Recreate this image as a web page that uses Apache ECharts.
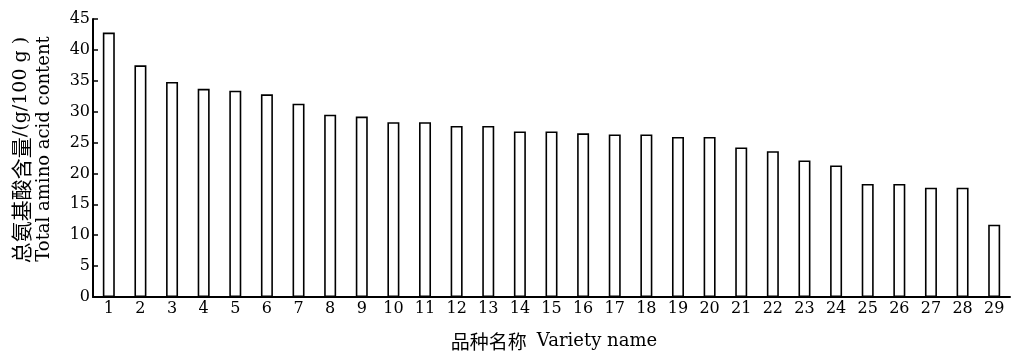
<!DOCTYPE html>
<html>
<head>
<meta charset="utf-8">
<script src="https://cdn.jsdelivr.net/npm/echarts@6/dist/echarts.min.js"></script>
<style>html,body{margin:0;padding:0;background:#fff}#c{width:1013px;height:354px}</style>
</head>
<body>
<div id="c"></div>
<script>
const categories = ['1','2','3','4','5','6','7','8','9','10','11','12','13','14','15','16','17','18','19','20','21','22','23','24','25','26','27','28','29'];
const values = [42.8,37.5,34.8,33.7,33.4,32.8,31.3,29.5,29.2,28.3,28.3,27.7,27.7,26.8,26.8,26.5,26.3,26.3,25.9,25.9,24.2,23.6,22.1,21.3,18.3,18.3,17.7,17.7,11.7];
const yTicks = [0,5,10,15,20,25,30,35,40,45];
const xTitleCn = '品种名称';
const xTitleEn = 'Variety name';
const yTitleCn = '总氨基酸含量';
const yTitleUnit = '/(g/100 g )';
const yTitleEn = 'Total amino acid content';

const serif = '"DejaVu Serif","Liberation Serif",serif';
const cjk = '"Noto Sans CJK SC","Noto Sans CJK JP",sans-serif';
const chart = echarts.init(document.getElementById('c'));
chart.setOption({
  animation: false,
  grid: {left: 93, right: 3, top: 19, bottom: 57, outerBoundsMode: 'none', containLabel: false},
  xAxis: {
    type: 'category', data: categories, boundaryGap: true,
    name: '{cn|' + xTitleCn + '}{sp| }{en|' + xTitleEn + '}', nameLocation: 'middle', nameGap: 35,
    nameTextStyle: {color: '#000', padding: [0,0,0,5], rich: {
      cn: {fontFamily: cjk, fontSize: 19, color: '#000'},
      sp: {fontFamily: serif, fontSize: 18, color: '#000', width: 10},
      en: {fontFamily: serif, fontSize: 18, color: '#000'}
    }},
    axisLine: {lineStyle: {color: '#000', width: 2}},
    axisTick: {inside: true, length: 5, lineStyle: {color: '#000', width: 1.5}},
    axisLabel: {fontFamily: serif, fontSize: 16, color: '#000', margin: 4, interval: 0}
  },
  yAxis: {
    type: 'value', min: yTicks[0], max: yTicks[yTicks.length-1], interval: 5,
    axisLine: {show: true, lineStyle: {color: '#000', width: 2}},
    axisTick: {show: true, inside: true, length: 5, lineStyle: {color: '#000', width: 1.5}},
    splitLine: {show: false},
    axisLabel: {fontFamily: serif, fontSize: 16, color: '#000', margin: 3, padding: [0,0,6,0]}
  },
  graphic: [
    {type: 'text', x: 21, y: 150, rotation: Math.PI/2,
     style: {text: '{cn|' + yTitleCn + '}{en|' + yTitleUnit + '}', align: 'center', verticalAlign: 'middle', fill: '#000',
       rich: {cn: {fontFamily: cjk, fontSize: 21, fill: '#000'}, en: {fontFamily: serif, fontSize: 19, fill: '#000'}}}},
    {type: 'text', x: 44, y: 149, rotation: Math.PI/2,
     style: {text: yTitleEn, align: 'center', verticalAlign: 'middle', fill: '#000', font: '18px ' + serif}}
  ],
  series: [{
    type: 'bar', data: values, barWidth: 12,
    itemStyle: {color: '#fff', borderColor: '#000', borderWidth: 1.6}
  }]
});
</script>
</body>
</html>
